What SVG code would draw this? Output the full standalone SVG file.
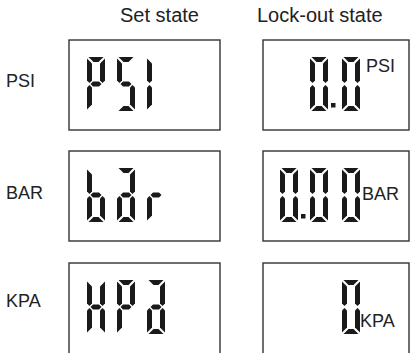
<svg xmlns="http://www.w3.org/2000/svg" xmlns:xlink="http://www.w3.org/1999/xlink" width="410" height="353" viewBox="0 0 410 353">
<style>
.t{font-family:"Liberation Sans",Arial,sans-serif;fill:#222}
.h{font-size:20px}
.l{font-size:18px}
.u{font-size:18px}
.box{fill:#fff;stroke:#333;stroke-width:1.4}
.seg{fill:#1a1a1a}
</style>
<defs>
<polygon id="sa" class="seg" points="1.5,0 16.5,0 11.5,5 6.5,5"/>
<polygon id="sb" class="seg" points="18,1.5 13,6.5 13,23.5 15.5,26 18,23.5"/>
<polygon id="sc" class="seg" points="18,52.5 13,47.5 13,30.5 15.5,28 18,30.5"/>
<polygon id="sd" class="seg" points="1.5,54 16.5,54 11.5,49 6.5,49"/>
<polygon id="se" class="seg" points="0,52.5 5,47.5 5,30.5 2.5,28 0,30.5"/>
<polygon id="sf" class="seg" points="0,1.5 5,6.5 5,23.5 2.5,26 0,23.5"/>
<polygon id="sg" class="seg" points="3.5,27 6,24.5 12,24.5 14.5,27 12,29.5 6,29.5"/>
<g id="d0"><use xlink:href="#sa"/><use xlink:href="#sb"/><use xlink:href="#sc"/><use xlink:href="#sd"/><use xlink:href="#se"/><use xlink:href="#sf"/></g>
<rect id="dp" class="seg" x="0" y="0" width="4.5" height="4.5"/>
</defs>
<text class="t h" x="120" y="22">Set state</text>
<text class="t h" x="257" y="22">Lock-out state</text>
<g id="psi-set">
<rect class="box" x="69" y="40" width="151" height="90"/>
<text class="t l" x="6" y="87">PSI</text>
<g transform="translate(87,57)"><use xlink:href="#sa"/><use xlink:href="#sb"/><use xlink:href="#se"/><use xlink:href="#sf"/><use xlink:href="#sg"/></g>
<g transform="translate(117,57)"><use xlink:href="#sa"/><use xlink:href="#sf"/><use xlink:href="#sg"/><use xlink:href="#sc"/><use xlink:href="#sd"/></g>
<g transform="translate(147,57)"><use xlink:href="#se"/><use xlink:href="#sf"/></g>
</g>
<g id="psi-lock">
<rect class="box" x="263" y="40" width="146" height="90"/>
<use xlink:href="#d0" transform="translate(310,57)"/>
<use xlink:href="#dp" transform="translate(331,103)"/>
<use xlink:href="#d0" transform="translate(342,57)"/>
<text class="t u" x="366" y="72">PSI</text>
</g>
<g id="bar-set">
<rect class="box" x="69" y="151" width="151" height="90"/>
<text class="t l" x="6" y="199">BAR</text>
<g transform="translate(87,168)"><use xlink:href="#sc"/><use xlink:href="#sd"/><use xlink:href="#se"/><use xlink:href="#sf"/><use xlink:href="#sg"/></g>
<g transform="translate(117,168)"><use xlink:href="#sa"/><use xlink:href="#sb"/><use xlink:href="#sc"/><use xlink:href="#sd"/><use xlink:href="#se"/><use xlink:href="#sg"/></g>
<g transform="translate(147,168)"><use xlink:href="#se"/><use xlink:href="#sg"/></g>
</g>
<g id="bar-lock">
<rect class="box" x="263" y="151" width="146" height="90"/>
<use xlink:href="#d0" transform="translate(280,168)"/>
<use xlink:href="#dp" transform="translate(301,214)"/>
<use xlink:href="#d0" transform="translate(310,168)"/>
<use xlink:href="#d0" transform="translate(342,168)"/>
<text class="t u" x="362" y="200">BAR</text>
</g>
<g id="kpa-set">
<rect class="box" x="69" y="263" width="151" height="95"/>
<text class="t l" x="6" y="307">KPA</text>
<g transform="translate(87,280)"><use xlink:href="#sb"/><use xlink:href="#sc"/><use xlink:href="#se"/><use xlink:href="#sf"/><use xlink:href="#sg"/></g>
<g transform="translate(117,280)"><use xlink:href="#sa"/><use xlink:href="#sb"/><use xlink:href="#se"/><use xlink:href="#sf"/><use xlink:href="#sg"/></g>
<g transform="translate(147,280)"><use xlink:href="#sa"/><use xlink:href="#sb"/><use xlink:href="#sc"/><use xlink:href="#sd"/><use xlink:href="#se"/><use xlink:href="#sg"/></g>
</g>
<g id="kpa-lock">
<rect class="box" x="263" y="263" width="146" height="95"/>
<use xlink:href="#d0" transform="translate(342,280)"/>
<text class="t u" x="360" y="327">KPA</text>
</g>
<g id="connectors"/>
</svg>
